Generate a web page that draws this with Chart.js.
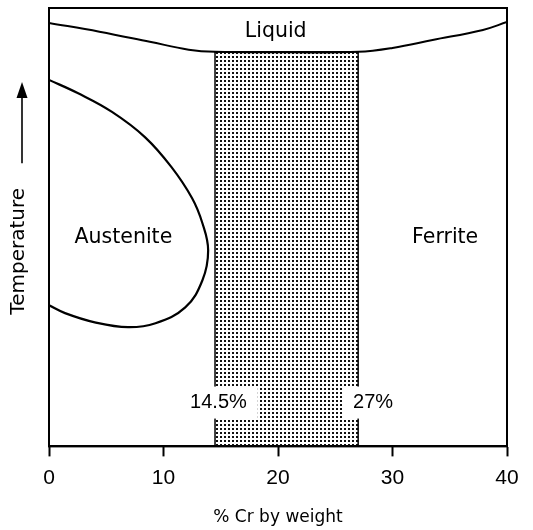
<!DOCTYPE html>
<html>
<head>
<meta charset="utf-8">
<title>Fe-Cr phase diagram</title>
<script src="https://cdn.jsdelivr.net/npm/chart.js@4/dist/chart.umd.min.js"></script>
<style>
  html, body { margin: 0; padding: 0; background: #fff; }
  #wrap { width: 533px; height: 530px; }
</style>
</head>
<body>
<div id="wrap"><canvas id="phase-chart"></canvas></div>
<script>
'use strict';

// ***************** DATA ***************** //

// temperature has no units on the original, so it runs 0..100 here
let tickLabels = ['0', '10', '20', '30', '40'];

let liquidCr = [0, 4.4, 8.8, 12.2, 14.5, 21, 27, 30, 33.5, 37.9, 40];
let liquidT = [96.6, 94.6, 92.3, 90.5, 90.0, 89.9, 90.0, 90.9, 92.7, 95.0, 96.8];

let austeniteCr = [0, 2.5, 5.5, 8.4, 10.7, 12.5, 13.4, 13.9, 13.4, 11.9, 9.3, 6.9, 4.0, 1.4, 0];
let austeniteT = [83.6, 80.6, 76.3, 70.5, 63.7, 56.6, 50.9, 44.7, 37.9, 31.7, 28.1, 27.2, 28.3, 30.4, 32.2];

let bandCr = [14.5, 27];
let bandTop = 90;

let regionNames = ['Liquid', 'Austenite', 'Ferrite'];
let regionCr = [19.8, 6.5, 34.6];
let regionT = [94.6, 47.7, 47.7];

let limitNames = ['14.5%', '27%'];
let limitCr = [14.8, 28.3];
let limitT = [10, 10];

// ***************** HELPERS ***************** //

function toPoints(xs, ys) {
  let pts = [];
  for (let i = 0; i < xs.length; i++) {
    pts.push({ x: xs[i], y: ys[i] });
  }
  return pts;
}

function makeDots() {
  let tile = document.createElement('canvas');
  tile.width = 4;
  tile.height = 4;
  let tctx = tile.getContext('2d');
  tctx.fillStyle = '#111';
  tctx.fillRect(0, 0, 2, 2);
  return tctx.createPattern(tile, 'repeat');
}

const FONT = '"DejaVu Sans"';
const NUM_FONT = '"Liberation Sans", Arial';

// box, region names, the 14.5 / 27 labels and the temperature arrow
let phasePlugin = {
  id: 'phaseLabels',
  afterDatasetsDraw(chart) {
    let c = chart.ctx;
    let area = chart.chartArea;
    let xs = chart.scales.x;
    let ys = chart.scales.y;

    c.save();
    c.strokeStyle = '#000';
    c.lineWidth = 2;
    c.strokeRect(area.left, area.top, area.right - area.left, area.bottom - area.top);

    c.fillStyle = '#000';
    c.textAlign = 'center';
    c.textBaseline = 'middle';
    c.font = '20.5px ' + FONT;
    for (let i = 0; i < regionNames.length; i++) {
      c.fillText(regionNames[i], xs.getPixelForValue(regionCr[i]), ys.getPixelForValue(regionT[i]));
    }

    c.font = '20px ' + NUM_FONT;
    for (let i = 0; i < limitNames.length; i++) {
      let px = xs.getPixelForValue(limitCr[i]);
      let py = ys.getPixelForValue(limitT[i]);
      let w = c.measureText(limitNames[i]).width;
      c.fillStyle = '#fff';
      c.fillRect(px - w / 2 - 11, py - 16, w + 22, 32);
      c.fillStyle = '#000';
      c.fillText(limitNames[i], px, py);
    }

    // y axis title with arrow pointing up
    let ax = area.left - 30;
    c.save();
    c.translate(ax, ys.getPixelForValue(44.5));
    c.rotate(-Math.PI / 2);
    c.font = '20px ' + FONT;
    c.fillText('Temperature', 0, 0);
    c.restore();

    let arrowX = area.left - 27;
    let tail = ys.getPixelForValue(64.6);
    let tip = ys.getPixelForValue(83.1);
    c.lineWidth = 1.6;
    c.beginPath();
    c.moveTo(arrowX, tail);
    c.lineTo(arrowX, tip + 12);
    c.stroke();
    c.beginPath();
    c.moveTo(arrowX, tip);
    c.lineTo(arrowX - 5.5, tip + 16);
    c.lineTo(arrowX + 5.5, tip + 16);
    c.closePath();
    c.fill();
    c.restore();
  }
};

// ***************** CHART ***************** //

let ctx = document.getElementById('phase-chart').getContext('2d');

let chartConfig = {
  type: 'scatter',
  data: {
    datasets: [
      {
        label: 'Liquidus',
        data: toPoints(liquidCr, liquidT),
        showLine: true,
        tension: 0.4,
        borderColor: '#000',
        borderWidth: 2,
        pointRadius: 0,
        fill: false,
        order: 1
      },
      {
        label: 'Austenite',
        data: toPoints(austeniteCr, austeniteT),
        showLine: true,
        tension: 0.4,
        borderColor: '#000',
        borderWidth: 2.2,
        pointRadius: 0,
        fill: false,
        order: 1
      },
      {
        label: 'Band',
        data: toPoints([bandCr[0], bandCr[0], bandCr[1], bandCr[1]], [0, bandTop, bandTop, 0]),
        showLine: true,
        tension: 0,
        borderColor: '#000',
        borderWidth: 1.5,
        backgroundColor: makeDots(),
        pointRadius: 0,
        fill: 'origin',
        order: 2
      }
    ]
  },
  options: {
    responsive: true,
    maintainAspectRatio: false,
    animation: false,
    layout: {
      padding: { left: 49, right: 26, top: 8, bottom: 0 }
    },
    plugins: {
      legend: { display: false },
      tooltip: { enabled: false }
    },
    scales: {
      x: {
        type: 'linear',
        min: 0,
        max: 40,
        grid: {
          drawOnChartArea: false,
          drawTicks: true,
          tickLength: 10,
          tickColor: '#000',
          tickWidth: 2
        },
        border: { display: true, color: '#000', width: 2 },
        ticks: {
          stepSize: 10,
          padding: 9,
          maxRotation: 0,
          color: '#000',
          font: { family: NUM_FONT, size: 21 },
          callback: function (value) {
            return tickLabels[value / 10];
          }
        },
        title: {
          display: true,
          text: '% Cr by weight',
          color: '#000',
          font: { family: FONT, size: 17 },
          padding: { top: 8, bottom: 2 }
        }
      },
      y: {
        type: 'linear',
        min: 0,
        max: 100,
        display: false
      }
    }
  },
  plugins: [phasePlugin]
};

new Chart(ctx, chartConfig);
</script>
</body>
</html>
